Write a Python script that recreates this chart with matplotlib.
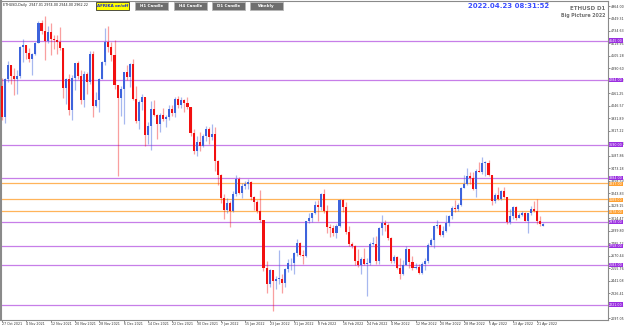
import matplotlib
matplotlib.use("Agg")
import matplotlib.pyplot as plt
from matplotlib.patches import Rectangle, Polygon
import numpy as np

# daily ETHUSD candles, 27 Oct 2021 .. 23 Apr 2022
opens = [4230, 3945, 4290, 4420, 4325, 4290, 4325, 4590, 4605, 4535, 4480, 4520, 4620, 4810, 4735, 4640,
         4725, 4665, 4650, 4630, 4580, 4215, 4290, 4005, 4300, 4440, 4325, 4100, 4340, 4270, 4525, 4045,
         4100, 4295, 4445, 4630, 4590, 4515, 4240, 4120, 4200, 4360, 4310, 4430, 4110, 3905, 4080, 4130,
         3780, 3860, 4020, 3960, 3880, 3960, 3930, 3940, 4020, 3980, 4110, 4050, 4100, 4070, 4040, 3800,
         3630, 3710, 3680, 3770, 3830, 3760, 3790, 3540, 3410, 3200, 3090, 3150, 3080, 3240, 3370, 3250,
         3310, 3330, 3350, 3210, 3160, 3080, 3000, 2560, 2410, 2540, 2440, 2460, 2460, 2420, 2550, 2600,
         2600, 2690, 2790, 2680, 2670, 2990, 3020, 3060, 3140, 3120, 3240, 3080, 2930, 2920, 2880, 2940,
         3180, 3120, 2890, 2780, 2760, 2620, 2580, 2640, 2590, 2600, 2780, 2780, 2620, 2920, 2970, 2950,
         2830, 2620, 2660, 2560, 2500, 2580, 2730, 2610, 2560, 2565, 2510, 2590, 2620, 2770, 2810, 2940,
         2950, 2860, 2900, 2970, 3030, 3110, 3100, 3140, 3290, 3330, 3400, 3380, 3280, 3450, 3440, 3520,
         3525, 3410, 3170, 3230, 3190, 3260, 3210, 2980, 3030, 3120, 3020, 3040, 3060, 2990, 3060, 3100,
         3080, 2990, 2947]
highs = [4300, 4300, 4460, 4420, 4390, 4380, 4600, 4665, 4605, 4575, 4530, 4630, 4825, 4840, 4868, 4780,
         4805, 4700, 4700, 4770, 4580, 4300, 4340, 4330, 4440, 4460, 4380, 4370, 4360, 4550, 4550, 4170,
         4300, 4460, 4760, 4780, 4630, 4650, 4240, 4230, 4360, 4420, 4440, 4480, 4230, 4100, 4160, 4130,
         3900, 4090, 4100, 3970, 3980, 4030, 3960, 4050, 4050, 4130, 4140, 4130, 4110, 4130, 4040, 3830,
         3770, 3810, 3790, 3860, 3850, 3880, 3850, 3550, 3420, 3240, 3200, 3170, 3260, 3410, 3390, 3340,
         3360, 3370, 3360, 3220, 3180, 3270, 3000, 2620, 2550, 2540, 2480, 2720, 2500, 2560, 2640, 2650,
         2700, 2820, 2800, 2720, 2990, 3060, 3060, 3170, 3180, 3250, 3280, 3140, 2960, 2950, 2960, 3190,
         3190, 3160, 2940, 2800, 2770, 2730, 2660, 2740, 2650, 2800, 2840, 2850, 2930, 3040, 3000, 2970,
         2840, 2680, 2670, 2650, 2630, 2760, 2730, 2670, 2600, 2590, 2610, 2650, 2790, 2830, 2950, 3000,
         2960, 2940, 3040, 3040, 3130, 3180, 3150, 3300, 3410, 3480, 3440, 3440, 3470, 3530, 3580, 3540,
         3550, 3410, 3250, 3300, 3270, 3300, 3210, 3100, 3130, 3130, 3060, 3080, 3070, 3060, 3130, 3170,
         3190, 3030, 2974]
lows = [3915, 3890, 4270, 4250, 4150, 4160, 4300, 4450, 4480, 4450, 4330, 4515, 4620, 4710, 4470, 4620,
        4515, 4570, 4520, 4560, 4120, 4060, 3960, 3920, 4190, 4290, 4060, 4040, 4160, 4250, 3940, 4040,
        3990, 4290, 4420, 4540, 4460, 4200, 3400, 3950, 3880, 4280, 4220, 4100, 3890, 3830, 4010, 3680,
        3700, 3640, 3950, 3740, 3810, 3910, 3850, 3920, 3950, 3940, 4030, 4030, 3990, 4020, 3770, 3600,
        3590, 3630, 3670, 3720, 3700, 3730, 3450, 3320, 3150, 3010, 3060, 2930, 3070, 3220, 3240, 3200,
        3280, 3280, 3180, 3090, 3060, 2980, 2530, 2330, 2380, 2160, 2360, 2410, 2330, 2380, 2520, 2540,
        2500, 2670, 2670, 2590, 2660, 2970, 2980, 3050, 2990, 3090, 3060, 2880, 2840, 2850, 2830, 2930,
        3070, 2870, 2760, 2740, 2580, 2570, 2500, 2580, 2300, 2580, 2770, 2590, 2590, 2860, 2900, 2810,
        2600, 2600, 2550, 2460, 2490, 2580, 2560, 2540, 2550, 2500, 2500, 2540, 2600, 2760, 2740, 2920,
        2850, 2840, 2890, 2940, 3010, 3070, 3080, 3130, 3290, 3320, 3330, 3270, 3210, 3440, 3420, 3400,
        3400, 3140, 3150, 3180, 3180, 3200, 2960, 2960, 3010, 3000, 3020, 3030, 2990, 2880, 3040, 3070,
        2960, 2940, 2944]
closes = [3945, 4290, 4420, 4325, 4290, 4325, 4590, 4605, 4535, 4480, 4520, 4620, 4810, 4735, 4640, 4725,
          4665, 4650, 4630, 4580, 4215, 4290, 4005, 4300, 4440, 4325, 4100, 4340, 4270, 4525, 4045, 4100,
          4295, 4445, 4630, 4590, 4515, 4240, 4120, 4200, 4360, 4310, 4430, 4110, 3905, 4080, 4130, 3780,
          3860, 4020, 3960, 3880, 3960, 3930, 3940, 4020, 3980, 4110, 4050, 4100, 4070, 4040, 3800, 3630,
          3710, 3680, 3770, 3830, 3760, 3790, 3540, 3410, 3200, 3090, 3150, 3080, 3240, 3370, 3250, 3310,
          3330, 3350, 3210, 3160, 3080, 3000, 2560, 2410, 2540, 2440, 2460, 2460, 2420, 2550, 2600, 2600,
          2690, 2790, 2680, 2670, 2990, 3020, 3060, 3140, 3120, 3240, 3080, 2930, 2920, 2880, 2940, 3180,
          3120, 2890, 2780, 2760, 2620, 2580, 2640, 2590, 2600, 2780, 2780, 2620, 2920, 2970, 2950, 2830,
          2620, 2660, 2560, 2500, 2580, 2730, 2610, 2560, 2565, 2510, 2590, 2620, 2770, 2810, 2940, 2950,
          2860, 2900, 2970, 3030, 3110, 3100, 3140, 3290, 3330, 3400, 3380, 3280, 3450, 3440, 3520, 3525,
          3410, 3170, 3230, 3190, 3260, 3210, 2980, 3030, 3120, 3020, 3040, 3060, 2990, 3060, 3100, 3080,
          2990, 2960, 2962.22]

date_labels = ["27 Oct 2021", "4 Nov 2021", "12 Nov 2021", "20 Nov 2021", "28 Nov 2021", "6 Dec 2021",
               "14 Dec 2021", "22 Dec 2021", "30 Dec 2021", "7 Jan 2022", "15 Jan 2022", "23 Jan 2022",
               "31 Jan 2022", "8 Feb 2022", "16 Feb 2022", "24 Feb 2022", "4 Mar 2022", "12 Mar 2022",
               "20 Mar 2022", "28 Mar 2022", "5 Apr 2022", "13 Apr 2022", "21 Apr 2022"]
date_pos = [0, 8, 16, 24, 32, 40, 48, 56, 64, 72, 80, 88, 96, 104, 112, 120, 128, 136, 144, 152, 160, 168, 176]

price_ticks = [2097.05, 2211.73, 2326.41, 2441.08, 2555.76, 2670.44, 2785.12, 2899.80, 3014.47, 3129.15,
               3243.83, 3358.50, 3473.18, 3587.86, 3702.54, 3817.22, 3931.89, 4046.57, 4161.25, 4275.92,
               4390.60, 4505.28, 4619.96, 4734.63, 4849.31, 4964.00]

purple_levels = [4645.0, 4284.0, 3690.0, 3384.0, 2978.0, 2758.0, 2583.0, 2221.0]
orange_levels = [3337.0, 3189.0, 3078.0]

o = np.array(opens, float)
h = np.array(highs, float)
l = np.array(lows, float)
c = np.array(closes, float)
idx = np.arange(len(o))
up = c >= o

BLUE = "#3d63dc"
RED = "#f21010"
FS = 2.3  # axis label size, the screenshot is heavily scaled down

fig = plt.figure(figsize=(6.25, 3.28), dpi=100)
ax = fig.add_axes([1 / 625, 8 / 328, 607 / 625, 319 / 328])
ax.set_xlim(-0.33, 199.3)
ax.set_ylim(2078.7, 5010)

# wicks
ax.vlines(idx[up], l[up], h[up], color=BLUE, alpha=0.45, lw=0.9, zorder=3)
ax.vlines(idx[~up], l[~up], h[~up], color=RED, alpha=0.4, lw=0.9, zorder=3)
# bodies
body = np.maximum(np.abs(c - o), 6)
ax.bar(idx[up], body[up], bottom=np.minimum(o, c)[up], width=0.68, color=BLUE, zorder=4, lw=0)
ax.bar(idx[~up], body[~up], bottom=np.minimum(o, c)[~up], width=0.68, color=RED, zorder=4, lw=0)

# horizontal levels, labels boxed on the price scale
for p in purple_levels:
    ax.axhline(p, color="#c77ee8", lw=0.9, zorder=2)
    ax.text(1.002, p, "%.2f" % p, transform=ax.get_yaxis_transform(), fontsize=FS, color="white",
            va="center", ha="left", clip_on=False, zorder=6,
            bbox=dict(boxstyle="square,pad=0.1", fc="#9a2ee0", ec="none"))
for p in orange_levels:
    ax.axhline(p, color="#ffb45a", lw=0.9, zorder=2)
    ax.text(1.002, p - 8, "%.2f" % p, transform=ax.get_yaxis_transform(), fontsize=FS, color="white",
            va="center", ha="left", clip_on=False, zorder=6,
            bbox=dict(boxstyle="square,pad=0.1", fc="#ffa030", ec="none"))

# axes styling
ax.yaxis.tick_right()
ax.set_yticks(price_ticks)
ax.set_yticklabels(["%.2f" % v for v in price_ticks])
ax.set_xticks(date_pos)
ax.set_xticklabels(date_labels)
for lab in ax.get_xticklabels():
    lab.set_horizontalalignment("left")
ax.tick_params(axis="y", labelsize=FS, length=1.2, width=0.4, pad=0.5, colors="#333333")
ax.tick_params(axis="x", labelsize=FS, length=1.2, width=0.4, pad=0.5, colors="#333333")
for side in ["top", "right", "bottom", "left"]:
    ax.spines[side].set_color("#8a8a8a")
    ax.spines[side].set_linewidth(0.8)
ax.spines["left"].set_linewidth(1.5)

# overlay in pixel coordinates for the header widgets
ov = fig.add_axes([0, 0, 1, 1], zorder=10)
ov.set_xlim(0, 625)
ov.set_ylim(328, 0)
ov.axis("off")
ov.patch.set_alpha(0)

ov.text(3, 5, "ETHUSD,Daily  2947.01 2974.00 2944.00 2962.22", fontsize=2.4, color="#222222", va="center")
ov.add_patch(Rectangle((96, 2), 33, 8, fc="#ffff00", ec="#333333", lw=0.6))
ov.text(112.5, 6, "AFRIKA on/off", fontsize=2.9, color="#1a2bd0", weight="bold", ha="center", va="center")
for x0, txt in zip([135, 174, 212, 250], ["H1 Candle", "H4 Candle", "D1 Candle", "Weekly"]):
    ov.add_patch(Rectangle((x0, 2), 33, 8, fc="#6e6e6e", ec="#b5b5b5", lw=0.6))
    ov.text(x0 + 16.5, 6, txt, fontsize=2.9, color="white", weight="bold", ha="center", va="center")

ov.text(509, 6, "2022.04.23 08:31:52", fontsize=5.0, color="#3a4cff", weight="bold", ha="center", va="center")
ov.text(605, 9, "ETHUSD D1", fontsize=4.0, color="#707070", weight="bold", ha="right", va="center")
ov.text(605, 16, "Big Picture 2022", fontsize=3.4, color="#707070", weight="bold", ha="right", va="center")
ov.add_patch(Polygon([[544, 1], [550, 1], [547, 4]], closed=True, fc="#9a9a9a", ec="none"))

fig.savefig("out.png", dpi=100, facecolor="white")
